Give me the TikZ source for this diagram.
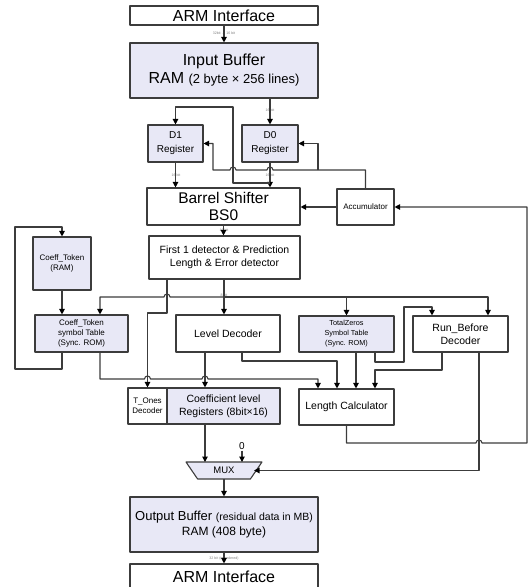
\documentclass[tikz,border=0pt]{standalone}
\usepackage{fontspec}
\setmainfont{Liberation Sans}
\usetikzlibrary{arrows.meta,calc,shapes.geometric}

\definecolor{boxfill}{RGB}{232,232,246}
\definecolor{linegray}{RGB}{60,60,60}
\newcommand{\fsz}[2]{\fontsize{#1}{#2}\selectfont}

\begin{document}
\begin{tikzpicture}[x=1pt, y=-1pt, line join=round,
  block/.style={draw=linegray, line width=1.1pt, align=center, inner sep=0pt},
  memblock/.style={block, fill=boxfill},
  link/.style={draw=linegray, line width=1.1pt},
  flow/.style={link, -{Triangle[length=5.5pt, width=5.5pt, color=black]}},
  buswidth/.style={font={\fsz{3.6}{4}}, text=gray, inner sep=0pt}]
\useasboundingbox (0,0) rectangle (530,587);

% blocks
\node[block, minimum width=188pt, minimum height=19pt, font=\fsz{16}{18}] (armin) at (224,15.5) {ARM Interface};
\node[memblock, minimum width=188pt, minimum height=55pt, font=\fsz{16}{18}] (inbuf) at (224,70.5)
  {Input Buffer\\RAM {\fsz{13}{18}(2 byte × 256 lines)}};
\node[memblock, minimum width=55pt, minimum height=37pt, font=\fsz{10}{14}] (d1) at (175.5,143.5) {D1\\Register};
\node[memblock, minimum width=56pt, minimum height=37pt, font=\fsz{10}{14}] (d0) at (270,143.5) {D0\\Register};
\node[block, minimum width=153pt, minimum height=37pt, font=\fsz{15.5}{17}] (bs) at (223.5,206.5) {Barrel Shifter\\BS0};
\node[block, minimum width=57pt, minimum height=36pt, font=\fsz{8}{10}] (acc) at (365.5,207) {Accumulator};
\node[block, minimum width=151pt, minimum height=43pt, font=\fsz{10.5}{12.5}] (first) at (224.5,257.5)
  {First 1 detector \& Prediction\\Length \& Error detector};
\node[memblock, minimum width=58pt, minimum height=53pt, font=\fsz{8}{10}] (ctram) at (62,263.5) {Coeff\_Token\\(RAM)};
\node[memblock, minimum width=93pt, minimum height=37pt, font=\fsz{8}{10}] (ctsym) at (81.5,333.5) {Coeff\_Token\\symbol Table\\(Sync. ROM)};
\node[block, minimum width=104pt, minimum height=37pt, font=\fsz{10.5}{12.5}] (lvl) at (228,333.5) {Level Decoder};
\node[memblock, minimum width=95pt, minimum height=36pt, font=\fsz{7.3}{10}] (tzs) at (346.5,334) {TotalZeros\\Symbol Table\\(Sync. ROM)};
\node[block, minimum width=95pt, minimum height=36pt, font=\fsz{10.5}{13}] (rbd) at (460.5,334) {Run\_Before\\Decoder};
\node[block, minimum width=39pt, minimum height=36pt, font=\fsz{8}{10}] (tones) at (147.5,406) {T\_Ones\\Decoder};
\node[memblock, minimum width=113pt, minimum height=36pt, font=\fsz{10.5}{13}] (coef) at (223.5,406) {Coefficient level\\Registers (8bit×16)};
\node[block, minimum width=95pt, minimum height=36pt, font=\fsz{10.5}{12.5}] (lcalc) at (346.5,407) {Length Calculator};
\node[font=\fsz{10}{12}, inner sep=1pt] (zero) at (242,446) {0};
\node[memblock, trapezium, trapezium stretches, shape border rotate=180,
  trapezium left angle=55, trapezium right angle=55,
  minimum width=76pt, minimum height=17pt, font=\fsz{9.5}{11}] (mux) at (224,470.5) {MUX};
\node[memblock, minimum width=188pt, minimum height=55pt, font=\fsz{13}{15}] (outbuf) at (224,524.5)
  {Output Buffer {\fsz{10.5}{15}(residual data in MB)}\\{\fsz{12}{15}RAM (408 byte)}};
\node[block, minimum width=188pt, minimum height=26pt, font=\fsz{16}{18}] (armout) at (224,577) {ARM Interface};

% bus widths
\node[buswidth] (bw1) at (224,33) {32bit → 16 bit};
\node[buswidth] (bw2) at (270,110) {16 bit};
\node[buswidth] (bw3) at (176,175) {16 bit};
\node[buswidth] (bw4) at (270,175) {16 bit};
\node[buswidth] (bw5) at (224,230) {16 bit};
\node[buswidth] (bw6) at (224,295) {8 bit};
\node[buswidth] (bw7) at (224,559) {32 bit (re-ordered)};

% bends
\coordinate (d0tap)   at (270,183);
\coordinate (d1loop)  at (233,107);
\coordinate (accfb)   at (318,170);
\coordinate (fbleft)  at (213,170);
\coordinate (rtop)    at (527,207);
\coordinate (rbot)    at (527,443);
\coordinate (bus)     at (224,297);
\coordinate (busL)    at (100,297);
\coordinate (busR)    at (488,297);
\coordinate (t1bend)  at (167,313);
\coordinate (loopT)   at (15,227);
\coordinate (loopB)   at (15,369);
\coordinate (lcin1)   at (318,379);
\coordinate (lvlout)  at (205,352);
\coordinate (lvlout2) at (242,352);
\coordinate (lcin2)   at (337,361);
\coordinate (tzsout)  at (356,352);
\coordinate (tzsout2) at (375,352);
\coordinate (rbloopB) at (404,362);
\coordinate (rbloopT) at (404,307);
\coordinate (rbin)    at (432,307);
\coordinate (rbout)   at (442,352);
\coordinate (lcin4)   at (375,370);
\coordinate (rbdout)  at (479,352);
\coordinate (muxtop)  at ($(mux.center)+(0,-8.5)$);
\coordinate (muxbot)  at ($(mux.center)+(0,8.5)$);
\coordinate (muxin)   at ($(mux.center)+(30,0)$);

% connectors
\draw[flow] (armin.south) -- (inbuf.north);
\draw[flow] (inbuf.south -| d0.north) -- (d0.north);
\draw[flow] (d1.south) -- (d1.south |- bs.north);
\draw[flow] (d0.south) -- (d0.south |- bs.north);
\draw[flow] (d0tap) -| (d1loop) -| (d1.north);
\draw[flow] (acc.north) -- (acc.north |- accfb)
  -- ($(d0tap |- accfb)+(3,0)$) arc[start angle=0, end angle=180, radius=3pt]
  -- ($(d1loop |- accfb)+(3,0)$) arc[start angle=0, end angle=180, radius=3pt]
  -- (fbleft) |- (d1.east);
\draw[flow] (accfb) |- (d0.east);
\draw[flow] (acc.west) -- (acc.west -| bs.east);
\draw[flow] (lcalc.south) -- (lcalc.south |- rbot)
  -- ($(rbdout |- rbot)+(-3,0)$) arc[start angle=180, end angle=0, radius=3pt]
  -- (rbot) -- (rtop) -- (acc.east);

\draw[flow] (bs.south) -- (bs.south |- first.north);
\draw[flow] (first.south -| bus) -- (bus |- lvl.north);
\draw[flow] (bus) -- ($(t1bend |- bus)+(3,0)$) arc[start angle=0, end angle=180, radius=3pt]
  -- (busL) -- (busL |- ctsym.north);
\draw[flow] (bus) -- (busR) -- (busR |- rbd.north);
\draw[flow] (tzs.north |- bus) -- (tzs.north);
\draw[flow] (first.south -| t1bend) -- (t1bend) -| (tones.north);

\draw[flow] (ctram.south) -- (ctsym.north -| ctram.south);
\draw[flow] (ctsym.south -| ctram.south) |- (loopB) -- (loopT) -| (ctram.north);
\draw[flow] (ctsym.south -| busL) |- ($(tones.north |- lcin1)+(-3,0)$)
  arc[start angle=180, end angle=0, radius=3pt]
  -- ($(lvlout |- lcin1)+(-3,0)$) arc[start angle=180, end angle=0, radius=3pt]
  -- (lcin1) -- (lcin1 |- lcalc.north);
\draw[flow] (lvlout) -- (lvlout |- coef.north);
\draw[flow] (lvlout2) |- (lcin2) -- (lcin2 |- lcalc.north);
\draw[flow] (tzsout) -- (tzsout |- lcalc.north);
\draw[flow] (tzsout2) |- (rbloopB) -- (rbloopT) -- (rbin) -- (rbin |- rbd.north);
\draw[flow] (rbout) |- (lcin4) -- (lcin4 |- lcalc.north);
\draw[flow] (rbdout) |- (muxin);

\draw[flow] (coef.south -| lvlout) -- (lvlout |- muxtop);
\draw[flow] (zero.south) -- (zero.south |- muxtop);
\draw[flow] (muxbot) -- (outbuf.north);
\draw[flow] (outbuf.south) -- (armout.north);

\end{tikzpicture}
\end{document}
